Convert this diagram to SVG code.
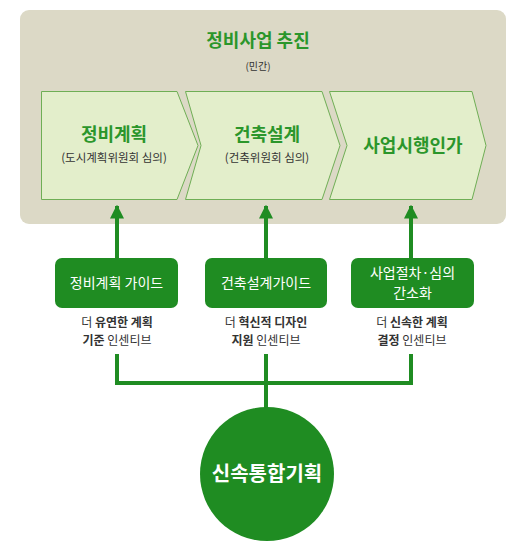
<svg xmlns="http://www.w3.org/2000/svg" width="530" height="548" viewBox="0 0 530 548">
<defs>
<style>
.t{font-family:"Noto Sans CJK KR","Noto Sans",sans-serif;text-anchor:middle}
.chev{fill:#e3eecb;stroke:#6fae55;stroke-width:1}
.h{font-size:18px;font-weight:bold;fill:#2b962b}
.sub{font-size:11.5px;fill:#333}
.box{fill:#1f8c22}
.bt{font-size:14px;fill:#fff}
.lt{font-size:12px;fill:#333}
.b{font-weight:bold}
.ln{stroke:#1f8c22;stroke-width:4;fill:none}
</style>
<marker id="ah" viewBox="0 0 10 10" refX="9" refY="5" markerWidth="3.5" markerHeight="3.5" orient="auto" markerUnits="strokeWidth">
<path d="M0,0 L10,5 L0,10 z" fill="#1f8c22"/>
</marker>
</defs>
<rect x="20" y="10" width="486" height="214" rx="9" fill="#dcd9c6"/>
<text class="t h" x="258" y="47">정비사업 추진</text>
<text class="t" x="258" y="70" font-size="10" fill="#333">(민간)</text>
<g id="n1">
<path class="chev" d="M41.5,91.5 H177 L198,145.5 L177,199.5 H41.5 Z"/>
<text class="t h" x="114" y="141">정비계획</text>
<text class="t sub" x="114" y="162">(도시계획위원회 심의)</text>
</g>
<g id="n2">
<path class="chev" d="M185.5,91.5 H322 L340,145.5 L322,199.5 H185.5 L201,145.5 Z"/>
<text class="t h" x="267" y="141">건축설계</text>
<text class="t sub" x="267" y="162">(건축위원회 심의)</text>
</g>
<g id="n3">
<path class="chev" d="M329.5,91.5 H472 L486,145.5 L472,199.5 H329.5 L347,145.5 Z"/>
<text class="t h" x="413" y="152">사업시행인가</text>
</g>
<g id="connectors">
<line class="ln" x1="117" y1="258" x2="117" y2="206" marker-end="url(#ah)"/>
<line class="ln" x1="266" y1="258" x2="266" y2="206" marker-end="url(#ah)"/>
<line class="ln" x1="411" y1="258" x2="411" y2="206" marker-end="url(#ah)"/>
<path class="ln" d="M117,354 V383 H411 V354 M266,354 V410"/>
</g>
<g id="b1">
<rect class="box" x="55" y="258" width="123" height="50" rx="7"/>
<text class="t bt" x="116.5" y="288">정비계획 가이드</text>
<text class="t lt" x="117" y="327">더 <tspan class="b">유연한 계획</tspan></text>
<text class="t lt" x="117" y="345"><tspan class="b">기준</tspan> 인센티브</text>
</g>
<g id="b2">
<rect class="box" x="205" y="258" width="122" height="50" rx="7"/>
<text class="t bt" x="266" y="288">건축설계가이드</text>
<text class="t lt" x="266" y="327">더 <tspan class="b">혁신적 디자인</tspan></text>
<text class="t lt" x="266" y="345"><tspan class="b">지원</tspan> 인센티브</text>
</g>
<g id="b3">
<rect class="box" x="351" y="258" width="123" height="50" rx="7"/>
<text class="t bt" x="412.5" y="278">사업절차·심의</text>
<text class="t bt" x="412.5" y="298">간소화</text>
<text class="t lt" x="412" y="327">더 <tspan class="b">신속한 계획</tspan></text>
<text class="t lt" x="412" y="345"><tspan class="b">결정</tspan> 인센티브</text>
</g>
<g id="c">
<circle cx="267" cy="474" r="67" fill="#1f8c22"/>
<text class="t" x="267" y="481" font-size="20" font-weight="bold" fill="#fff">신속통합기획</text>
</g>
</svg>
